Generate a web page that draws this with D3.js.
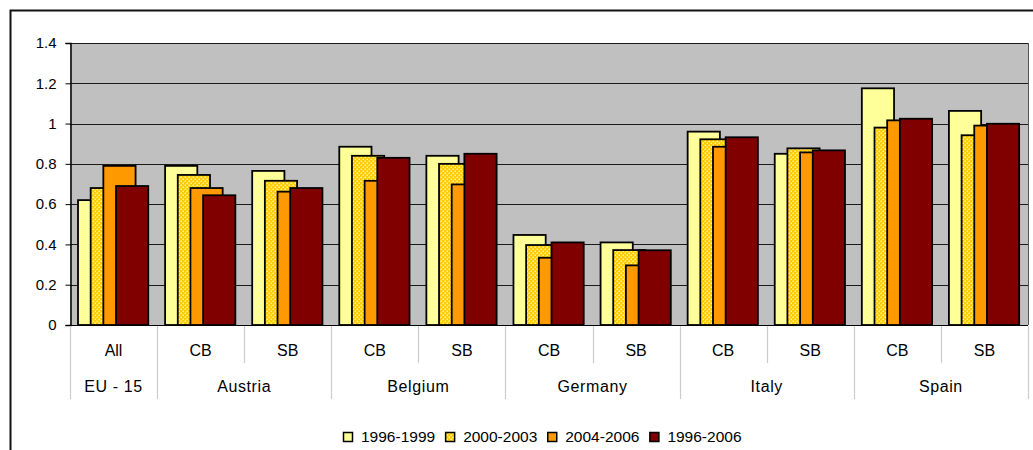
<!DOCTYPE html>
<html>
<head>
<meta charset="utf-8">
<script src="https://cdn.jsdelivr.net/npm/d3@7/dist/d3.min.js"></script>
<style>
  html, body { margin: 0; padding: 0; background: #fff; }
  svg { display: block; font-family: "Liberation Sans", Arial, sans-serif; }
</style>
</head>
<body>
<svg id="chart" width="1033" height="450"></svg>
<script>
// Sub-categories along the x axis and the country each belongs to
const subCategories = ["All", "CB", "SB", "CB", "SB", "CB", "SB", "CB", "SB", "CB", "SB"];
const countries = ["EU - 15", "Austria", "Belgium", "Germany", "Italy", "Spain"];
const countrySpans = [1, 2, 2, 2, 2, 2];

// Period series
const seriesNames = ["1996-1999", "2000-2003", "2004-2006", "1996-2006"];
const v1996_1999 = [0.62, 0.79, 0.765, 0.885, 0.84, 0.447, 0.41, 0.96, 0.85, 1.175, 1.063];
const v2000_2003 = [0.68, 0.745, 0.716, 0.84, 0.80, 0.397, 0.372, 0.922, 0.877, 0.98, 0.942];
const v2004_2006 = [0.79, 0.68, 0.662, 0.716, 0.698, 0.334, 0.296, 0.885, 0.857, 1.016, 0.99];
const v1996_2006 = [0.69, 0.644, 0.68, 0.83, 0.85, 0.41, 0.371, 0.932, 0.867, 1.024, 0.999];

const yTicks = [0, 0.2, 0.4, 0.6, 0.8, 1, 1.2, 1.4];

const seriesValues = [v1996_1999, v2000_2003, v2004_2006, v1996_2006];
const fills = ["#FFFF99", "url(#dots)", "#FF9900", "#800000"];

const svg = d3.select("#chart");

// dotted fill for the 2000-2003 bars
const defs = svg.append("defs");
const pat = defs.append("pattern")
  .attr("id", "dots").attr("patternUnits", "userSpaceOnUse")
  .attr("width", 4).attr("height", 4);
pat.append("rect").attr("width", 4).attr("height", 4).attr("fill", "#FFCC00");
pat.append("rect").attr("x", 0.5).attr("y", 0.5).attr("width", 1.5).attr("height", 1.5).attr("fill", "#FFF3B0");
pat.append("rect").attr("x", 2.5).attr("y", 2.5).attr("width", 1.5).attr("height", 1.5).attr("fill", "#FFF3B0");

// outer chart frame
svg.append("rect").attr("x", 10.5).attr("y", 10.5).attr("width", 1060).attr("height", 470)
  .attr("fill", "#fff").attr("stroke", "#111").attr("stroke-width", 2);

const plot = { left: 70, right: 1028, top: 43, bottom: 325 };

const x = d3.scaleBand().domain(d3.range(subCategories.length))
  .range([plot.left, plot.right]).padding(0);
const y = d3.scaleLinear().domain([0, 1.4]).range([plot.bottom, plot.top]);

// plot background
svg.append("rect").attr("x", plot.left).attr("y", plot.top)
  .attr("width", plot.right - plot.left).attr("height", plot.bottom - plot.top)
  .attr("fill", "#C0C0C0");

// horizontal gridlines
svg.append("g").selectAll("line").data(yTicks.filter(d => d > 0)).join("line")
  .attr("x1", plot.left).attr("x2", plot.right)
  .attr("y1", d => Math.round(y(d)) + 0.5).attr("y2", d => Math.round(y(d)) + 0.5)
  .attr("stroke", "#1a1a1a").attr("stroke-width", 1);

// right edge of plot
svg.append("line").attr("x1", plot.right + 0.5).attr("x2", plot.right + 0.5)
  .attr("y1", plot.top).attr("y2", plot.bottom).attr("stroke", "#555");

// bars: overlapping, later series on top
const bw = x.bandwidth();
const barW = bw * 0.37;
const step = bw * 0.1455;
const inset = bw * 0.092;

seriesValues.forEach((vals, si) => {
  svg.append("g").selectAll("rect").data(vals).join("rect")
    .attr("x", (d, i) => x(i) + inset + si * step)
    .attr("y", d => y(d))
    .attr("width", barW)
    .attr("height", d => y(0) - y(d))
    .attr("fill", fills[si])
    .attr("stroke", "#000").attr("stroke-width", 1.8);
});

// y axis
const yAxis = d3.axisLeft(y).tickValues(yTicks).tickSize(5).tickPadding(9)
  .tickFormat(d => d3.format("")(+d.toFixed(1)));
const gy = svg.append("g").attr("transform", `translate(${plot.left + 0.5},0)`).call(yAxis);
gy.select(".domain").attr("stroke", "#000").attr("stroke-width", 1.5);
gy.selectAll(".tick line").attr("stroke", "#000");
gy.selectAll(".tick text").attr("font-size", 15).attr("fill", "#000")
  .attr("font-family", "Liberation Sans, Arial, sans-serif");

// zero line
svg.append("line").attr("x1", plot.left).attr("x2", plot.right)
  .attr("y1", y(0) + 0.5).attr("y2", y(0) + 0.5).attr("stroke", "#000").attr("stroke-width", 1);

// category axis: sub-category row and country row
const rowSep = 363, groupSep = 399;
const groupStarts = [];
let acc = 0;
countrySpans.forEach(s => { groupStarts.push(acc); acc += s; });
const groupEdgeIdx = new Set(groupStarts.concat([subCategories.length]));

const edges = d3.range(subCategories.length + 1);
svg.append("g").selectAll("line").data(edges).join("line")
  .attr("x1", i => Math.round(i < subCategories.length ? x(i) : plot.right) + 0.5)
  .attr("x2", i => Math.round(i < subCategories.length ? x(i) : plot.right) + 0.5)
  .attr("y1", y(0) + 1)
  .attr("y2", i => groupEdgeIdx.has(i) ? groupSep : rowSep)
  .attr("stroke", "#CCCCCC").attr("stroke-width", 1.2);

svg.append("g").selectAll("text").data(subCategories).join("text")
  .attr("x", (d, i) => x(i) + bw / 2).attr("y", 356)
  .attr("text-anchor", "middle").attr("font-size", 16).attr("fill", "#000")
  .text(d => d);

svg.append("g").selectAll("text").data(countries).join("text")
  .attr("x", (d, gi) => x(groupStarts[gi]) + bw * countrySpans[gi] / 2)
  .attr("y", 392)
  .attr("text-anchor", "middle").attr("font-size", 16).attr("fill", "#000")
  .attr("letter-spacing", 0.6)
  .text(d => d);

// legend
const legend = svg.append("g");
let lx = 343;
seriesNames.forEach((name, si) => {
  const g = legend.append("g");
  g.append("rect").attr("x", lx + 0.5).attr("y", 432.5).attr("width", 9).attr("height", 9)
    .attr("fill", fills[si]).attr("stroke", "#000").attr("stroke-width", 1.5);
  const t = g.append("text").attr("x", lx + 18).attr("y", 442)
    .attr("font-size", 15.5).attr("fill", "#000").text(name);
  lx = lx + 18 + t.node().getComputedTextLength() + 10;
});
</script>
</body>
</html>
